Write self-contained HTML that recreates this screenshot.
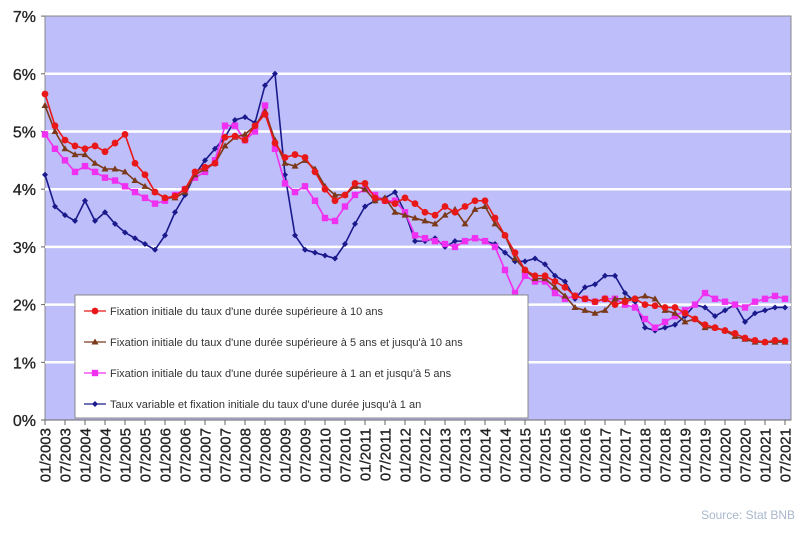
<!DOCTYPE html>
<html><head><meta charset="utf-8"><style>
body{margin:0;background:#fff;width:811px;height:535px;overflow:hidden;font-family:"Liberation Sans",sans-serif}
</style></head><body>
<svg id="chart" width="811" height="535" xmlns="http://www.w3.org/2000/svg">
<rect x="45" y="16" width="746" height="404" fill="#bebefa" stroke="#888" stroke-width="1"/>
<g id="grid"></g><g id="yaxis"></g><g id="xaxis"></g><g id="series"></g>
<g id="legend"></g>
<text x="795" y="519" text-anchor="end" font-size="12" fill="#a8b8cc">Source: Stat BNB</text>
</svg>
<script>
const yTicks=[0,1,2,3,4,5,6,7];
const xLabels=[];for(let y=2003;y<=2021;y++){xLabels.push('01/'+y);xLabels.push('07/'+y);}
const red=[5.65,5.1,4.85,4.75,4.7,4.75,4.65,4.8,4.95,4.45,4.25,3.95,3.85,3.88,4.0,4.3,4.38,4.45,4.9,4.92,4.85,5.1,5.3,4.8,4.55,4.6,4.55,4.3,4.0,3.8,3.9,4.1,4.1,3.85,3.8,3.75,3.85,3.75,3.6,3.55,3.7,3.6,3.7,3.8,3.8,3.5,3.2,2.9,2.6,2.5,2.5,2.4,2.3,2.15,2.1,2.05,2.1,2.0,2.05,2.1,2.0,1.98,1.95,1.95,1.85,1.75,1.65,1.6,1.55,1.5,1.42,1.38,1.35,1.38,1.37];
const brown=[5.45,5.0,4.7,4.6,4.6,4.45,4.35,4.35,4.3,4.15,4.05,3.95,3.85,3.85,3.95,4.25,4.35,4.45,4.75,4.9,4.95,5.1,5.35,4.85,4.45,4.4,4.5,4.35,4.05,3.9,3.9,4.05,4.0,3.8,3.85,3.6,3.55,3.5,3.45,3.4,3.55,3.65,3.4,3.65,3.7,3.4,3.2,2.8,2.6,2.45,2.45,2.3,2.15,1.95,1.9,1.85,1.9,2.1,2.1,2.1,2.15,2.1,1.9,1.85,1.7,1.75,1.6,1.6,1.55,1.45,1.4,1.35,1.35,1.35,1.35];
const pink=[4.95,4.7,4.5,4.3,4.4,4.3,4.2,4.15,4.05,3.95,3.85,3.75,3.8,3.9,4.0,4.2,4.3,4.5,5.1,5.1,4.85,5.0,5.45,4.7,4.1,3.95,4.05,3.8,3.5,3.45,3.7,3.9,4.0,3.9,3.8,3.8,3.6,3.2,3.15,3.1,3.05,3.0,3.1,3.15,3.1,3.0,2.6,2.2,2.5,2.4,2.4,2.2,2.1,2.15,2.1,2.05,2.1,2.1,2.0,1.95,1.75,1.6,1.7,1.8,1.9,2.0,2.2,2.1,2.05,2.0,1.95,2.05,2.1,2.15,2.1];
const blue=[4.25,3.7,3.55,3.45,3.8,3.45,3.6,3.4,3.25,3.15,3.05,2.95,3.2,3.6,3.9,4.25,4.5,4.7,4.9,5.2,5.25,5.15,5.8,6.0,4.25,3.2,2.95,2.9,2.85,2.8,3.05,3.4,3.7,3.8,3.85,3.95,3.6,3.1,3.1,3.15,3.0,3.1,3.1,3.15,3.1,3.05,2.9,2.75,2.75,2.8,2.7,2.5,2.4,2.1,2.3,2.35,2.5,2.5,2.2,2.05,1.6,1.55,1.6,1.65,1.8,2.0,1.95,1.8,1.9,2.0,1.7,1.85,1.9,1.95,1.95];
const legendLabels=["Fixation initiale du taux d'une durée supérieure à 10 ans","Fixation initiale du taux d'une durée supérieure à 5 ans et  jusqu'à 10 ans","Fixation initiale du taux d'une durée supérieure à 1 an et  jusqu'à 5 ans","Taux variable et fixation initiale du taux d'une durée jusqu'à 1 an"];
const NS='http://www.w3.org/2000/svg';
const yS=v=>420-v*57.7;
const xQ=i=>45+i*10;
const xL=i=>45+i*20;
function mk(t,a,p){const e=document.createElementNS(NS,t);for(const k in a)e.setAttribute(k,a[k]);p.appendChild(e);return e;}
const grid=document.getElementById('grid'),ya=document.getElementById('yaxis'),xa=document.getElementById('xaxis');
yTicks.forEach(v=>{
  if(v>0&&v<7){const g=mk('line',{x1:45,x2:791,y1:yS(v),y2:yS(v),stroke:'#fff','stroke-width':2.5},grid);
  
  }
  const t=mk('text',{x:36,y:yS(v)+6,'text-anchor':'end','font-size':16,fill:'#222','stroke':'#222','stroke-width':0.3},ya);
  
  
  t.textContent=v+'%';
  mk('line',{x1:41,x2:45,y1:yS(v),y2:yS(v),stroke:'#666'},ya);
});
mk('line',{x1:45,x2:791,y1:420,y2:420,stroke:'#666'},xa);
xLabels.forEach((l,i)=>{
  const x=xL(i);
  mk('line',{x1:x,x2:x,y1:420,y2:425,stroke:'#666'},xa);
  const t=mk('text',{x:0,y:0,transform:`translate(${x+5.5},${428}) rotate(-90)`,'text-anchor':'end','font-size':15,fill:'#222','stroke':'#222','stroke-width':0.3},xa);
  
  
  t.textContent=l;
});
const sg=document.getElementById('series');
function marker(shape,x,y,c,p){
  if(shape==='circle')return mk('circle',{cx:x,cy:y,r:3.4,fill:c},p);
  if(shape==='tri')return mk('polygon',{points:`${x},${y-3.5} ${x-3.5},${y+2.5} ${x+3.5},${y+2.5}`,fill:c},p);
  if(shape==='sq')return mk('rect',{x:x-3.2,y:y-3.2,width:6.4,height:6.4,fill:c},p);
  return mk('polygon',{points:`${x},${y-3} ${x+3},${y} ${x},${y+3} ${x-3},${y}`,fill:c},p);
}
const defs=[[blue,'#1a1a8c','dia','series-variable'],[pink,'#f030f0','sq','series-1-5y'],[brown,'#7a3a1a','tri','series-5-10y'],[red,'#e81818','circle','series-10y']];
defs.forEach(([d,c,s,n])=>{
  const g=mk('g',{},sg);
  
  
  mk('polyline',{points:d.map((v,i)=>xQ(i)+','+yS(v)).join(' '),fill:'none',stroke:c,'stroke-width':1.6},g);
  d.forEach((v,i)=>marker(s,xQ(i),yS(v),c,g));
});
const lg=document.getElementById('legend');
mk('rect',{x:75,y:295,width:453,height:123,fill:'#fff',stroke:'#888'},lg);
const lc=[['#e81818','circle'],['#7a3a1a','tri'],['#f030f0','sq'],['#1a1a8c','dia']];
legendLabels.forEach((l,i)=>{
  const y=311+i*31;
  const g=mk('g',{},lg);
  
  
  mk('line',{x1:84,x2:106,y1:y,y2:y,stroke:lc[i][0],'stroke-width':1.2},g);
  marker(lc[i][1],95,y,lc[i][0],g);
  const t=mk('text',{x:110,y:y+4,'font-size':11,fill:'#333'},g);
  t.textContent=l;
});
</script>
</body></html>
